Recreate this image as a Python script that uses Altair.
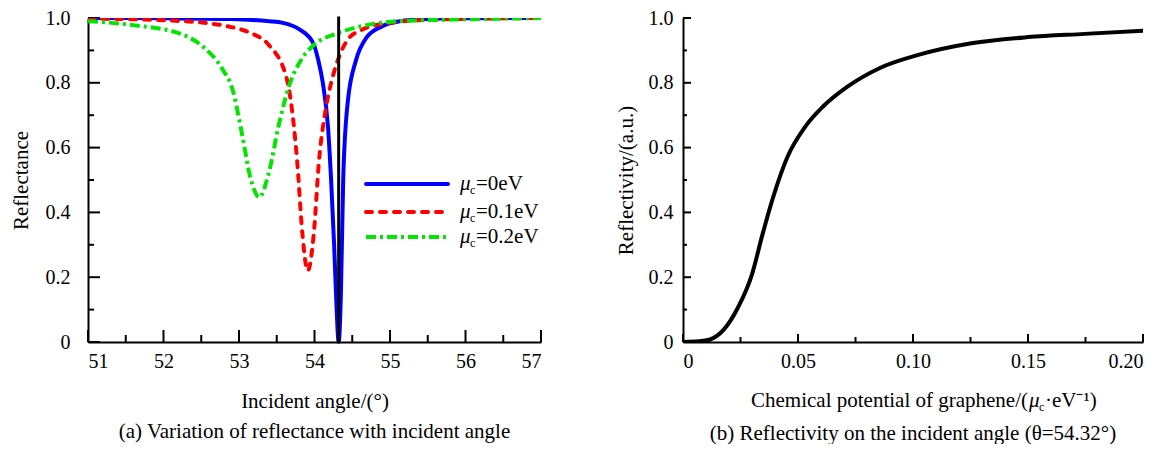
import altair as alt
import pandas as pd

FONT = "Liberation Serif"

# ---------------- Panel (a): reflectance vs incident angle ----------------
blue_x = [51.0, 52.0, 52.9, 53.3, 53.58, 53.8, 53.98, 54.05, 54.11, 54.18, 54.22, 54.26, 54.29, 54.32,
          54.35, 54.38, 54.44, 54.55, 54.69, 54.9, 55.13, 55.5, 56.0, 57.0]
blue_y = [1.0, 0.999, 0.997, 0.992, 0.985, 0.965, 0.924, 0.87, 0.80, 0.66, 0.50, 0.30, 0.12, 0.0,
          0.15, 0.50, 0.74, 0.87, 0.94, 0.975, 0.99, 0.997, 0.999, 1.0]

red_x = [51.0, 52.0, 52.54, 52.9, 53.15, 53.39, 53.63, 53.68, 53.77, 53.84, 53.91, 53.99, 54.06, 54.15,
         54.25, 54.32, 54.44, 54.63, 55.0, 55.57, 56.2, 57.0]
red_y = [0.998, 0.993, 0.985, 0.972, 0.954, 0.918, 0.815, 0.754, 0.56, 0.333, 0.22, 0.333, 0.56, 0.72,
         0.826, 0.877, 0.933, 0.964, 0.985, 0.995, 0.998, 1.0]

green_x = [51.0, 51.6, 52.25, 52.54, 52.77, 52.92, 53.04, 53.15, 53.27, 53.39, 53.53, 53.67, 53.84, 54.0,
           54.32, 54.63, 55.1, 55.8, 56.5, 57.0]
green_y = [0.99, 0.978, 0.949, 0.908, 0.846, 0.775, 0.642, 0.508, 0.447, 0.518, 0.673, 0.795, 0.877, 0.918,
           0.954, 0.975, 0.99, 0.995, 0.998, 1.0]

legend_values = ["=0eV", "=0.1eV", "=0.2eV"]
line_colors = ["#0000ff", "#ff0000", "#00e600"]
marker_angle = [54.32]

a_xticks_major = [51, 52, 53, 54, 55, 56, 57]
a_xticks_minor = [51.5, 52.5, 53.5, 54.5, 55.5, 56.5]
yticks_major = [0, 0.2, 0.4, 0.6, 0.8, 1.0]
yticks_minor = [0.1, 0.3, 0.5, 0.7, 0.9]

# ---------------- Panel (b): reflectivity vs chemical potential ----------------
mu_x = [0.0, 0.0069, 0.0115, 0.0177, 0.0238, 0.030, 0.0346, 0.0392, 0.0454, 0.0531, 0.0608, 0.0715,
        0.0854, 0.1023, 0.1254, 0.15, 0.1746, 0.2]
refl_y = [0.0, 0.002, 0.007, 0.038, 0.105, 0.209, 0.333, 0.447, 0.571, 0.664, 0.726, 0.788,
          0.845, 0.886, 0.922, 0.941, 0.951, 0.961]

b_xticks_major = [0, 0.05, 0.10, 0.15, 0.20]
b_xticks_minor = [0.025, 0.075, 0.125, 0.175]

W_A, W_B, H = 453, 460, 324

lab_fs = 20
tit_fs = 21
LW = 4

ys = alt.Scale(domain=[0, 1], nice=False)
xs_a = alt.Scale(domain=[51, 57], nice=False, zero=False)
xs_b = alt.Scale(domain=[0, 0.2], nice=False)

common_axis = dict(ticks=False, grid=False, domainColor="black", domainWidth=2,
                   labelFont=FONT, labelFontSize=lab_fs, labelColor="black",
                   titleFont=FONT, titleFontWeight="normal", titleColor="black")

x_axis_a = alt.Axis(values=a_xticks_major, format="d", labelPadding=9,
                    title="Incident angle/(°)", titleFontSize=tit_fs, titleY=59,
                    titleBaseline="middle", **common_axis)
y_axis_a = alt.Axis(values=yticks_major, labelExpr="datum.value == 0 ? '0' : format(datum.value, '.1f')",
                    labelPadding=18, title="Reflectance", titleFontSize=tit_fs, titleX=-67, titleY=H / 2,
                    titleAngle=-90, titleAlign="center", titleBaseline="middle", **common_axis)

x_axis_b = alt.Axis(values=b_xticks_major, labelExpr="datum.value == 0 ? '0' : format(datum.value, '.2f')",
                    labelPadding=9, title=None, **common_axis)
y_axis_b = alt.Axis(values=yticks_major, labelExpr="datum.value == 0 ? '0' : format(datum.value, '.1f')",
                    labelPadding=10, title="Reflectivity/(a.u.)", titleFontSize=tit_fs, titleX=-57,
                    titleY=H / 2, titleAngle=-90, titleAlign="center", titleBaseline="middle", **common_axis)


def one_row():
    return pd.DataFrame({"k": [0]})


def curve(xv, yv, color, dash, cap, xs, xa, ya):
    df = pd.DataFrame({"x": xv, "y": yv})
    kw = dict(color=color, strokeWidth=LW, strokeCap=cap, interpolate="monotone", clip=True)
    if dash:
        kw["strokeDash"] = dash
    return alt.Chart(df).mark_line(**kw).encode(
        x=alt.X("x:Q", scale=xs, axis=xa), y=alt.Y("y:Q", scale=ys, axis=ya))


def xticks(vals, xs, xa, length):
    df = pd.DataFrame({"t": vals})
    return alt.Chart(df).mark_rule(color="black", strokeWidth=2).encode(
        x=alt.X("t:Q", scale=xs, axis=xa), y=alt.value(H), y2=alt.value(H - length))


def yticks(vals, ya, length):
    df = pd.DataFrame({"t": vals})
    return alt.Chart(df).mark_rule(color="black", strokeWidth=2).encode(
        y=alt.Y("t:Q", scale=ys, axis=ya), x=alt.value(0), x2=alt.value(length))


dashes = [None, [6, 8], [10, 4, 3, 4]]
caps = ["round", "round", "butt"]

layers_a = [
    xticks(a_xticks_major, xs_a, x_axis_a, 12),
    xticks(a_xticks_minor, xs_a, x_axis_a, 7),
    yticks(yticks_major, y_axis_a, 12),
    yticks(yticks_minor, y_axis_a, 6),
    curve(blue_x, blue_y, line_colors[0], dashes[0], caps[0], xs_a, x_axis_a, y_axis_a),
    curve(red_x, red_y, line_colors[1], dashes[1], caps[1], xs_a, x_axis_a, y_axis_a),
    curve(green_x, green_y, line_colors[2], dashes[2], caps[2], xs_a, x_axis_a, y_axis_a),
    alt.Chart(pd.DataFrame({"a": marker_angle})).mark_rule(color="black", strokeWidth=3, strokeCap="square").encode(
        x=alt.X("a:Q", scale=xs_a, axis=x_axis_a), y=alt.value(0), y2=alt.value(H)),
]

# manual legend with subscripted μc
leg_x0, leg_x1, leg_tx = 278, 360, 372
leg_rows = [166, 194, 219]
for i, lab in enumerate(legend_values):
    yy = leg_rows[i]
    kw = dict(color=line_colors[i], strokeWidth=LW, strokeCap=caps[i])
    if dashes[i]:
        kw["strokeDash"] = dashes[i]
    layers_a.append(alt.Chart(one_row()).mark_rule(**kw).encode(
        x=alt.value(leg_x0), x2=alt.value(leg_x1), y=alt.value(yy)))
    layers_a.append(alt.Chart(one_row()).mark_text(text="μ", font=FONT, fontSize=tit_fs, fontStyle="italic",
                                                  align="left", baseline="middle", color="black").encode(
        x=alt.value(leg_tx), y=alt.value(yy)))
    layers_a.append(alt.Chart(one_row()).mark_text(text="c", font=FONT, fontSize=12,
                                                  align="left", baseline="middle", color="black").encode(
        x=alt.value(leg_tx + 10), y=alt.value(yy + 6)))
    layers_a.append(alt.Chart(one_row()).mark_text(text=lab, font=FONT, fontSize=tit_fs,
                                                  align="left", baseline="middle", color="black").encode(
        x=alt.value(leg_tx + 16), y=alt.value(yy)))

panel_a = alt.layer(*layers_a).properties(
    width=W_A, height=H,
    title=alt.TitleParams("(a) Variation of reflectance with incident angle", orient="bottom", anchor="middle",
                          frame="group", font=FONT, fontSize=tit_fs, fontWeight="normal", color="black", offset=10),
)

# panel (b)
xt0 = 345
ty = H + 59
layers_b = [
    xticks(b_xticks_major, xs_b, x_axis_b, 8),
    xticks(b_xticks_minor, xs_b, x_axis_b, 5),
    yticks(yticks_major, y_axis_b, 8),
    yticks(yticks_minor, y_axis_b, 4),
    curve(mu_x, refl_y, "black", None, "round", xs_b, x_axis_b, y_axis_b),
    alt.Chart(one_row()).mark_text(text="Chemical potential of graphene/(", font=FONT, fontSize=tit_fs,
                                   align="right", baseline="middle", color="black").encode(
        x=alt.value(xt0), y=alt.value(ty)),
    alt.Chart(one_row()).mark_text(text="μ", font=FONT, fontSize=tit_fs, fontStyle="italic",
                                   align="left", baseline="middle", color="black").encode(
        x=alt.value(xt0 + 1), y=alt.value(ty)),
    alt.Chart(one_row()).mark_text(text="c", font=FONT, fontSize=12,
                                   align="left", baseline="middle", color="black").encode(
        x=alt.value(xt0 + 11), y=alt.value(ty + 6)),
    alt.Chart(one_row()).mark_text(text="·eV⁻¹)", font=FONT, fontSize=tit_fs,
                                   align="left", baseline="middle", color="black").encode(
        x=alt.value(xt0 + 17), y=alt.value(ty)),
]

panel_b = alt.layer(*layers_b).properties(
    width=W_B, height=H,
    title=alt.TitleParams("(b) Reflectivity on the incident angle (θ=54.32°)", orient="bottom", anchor="middle",
                          frame="group", font=FONT, fontSize=tit_fs, fontWeight="normal", color="black", offset=10),
)

chart = alt.hconcat(panel_a, panel_b, spacing=73).properties(
    padding={"left": 2, "top": 0, "right": 0, "bottom": 0},
    background="white",
).configure(font=FONT).configure_view(stroke=None).configure_axis(labelFont=FONT, titleFont=FONT)

chart.save("out.html", embed_options={"renderer": "svg", "actions": False})
